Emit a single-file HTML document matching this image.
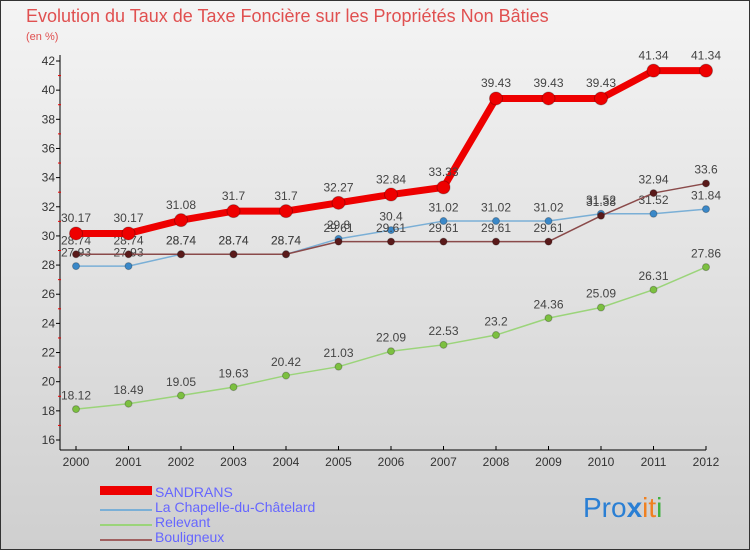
<!DOCTYPE html>
<html><head><meta charset="utf-8"><style>
body{margin:0;width:750px;height:550px;overflow:hidden;font-family:"Liberation Sans",sans-serif}
svg{display:block}
</style></head><body>
<svg id="c" width="750" height="550" xmlns="http://www.w3.org/2000/svg">
<defs><linearGradient id="bg" x1="0" y1="0" x2="0" y2="1"><stop offset="0" stop-color="#f4f4f4"/><stop offset="1" stop-color="#cfcfcf"/></linearGradient></defs>
<rect x="0.5" y="0.5" width="749" height="549" fill="url(#bg)" stroke="#333"/>
<text x="26" y="22" font-size="18" fill="#e05050">Evolution du Taux de Taxe Foncière sur les Propriétés Non Bâties</text>
<text x="26" y="40" font-size="11" fill="#e05050">(en %)</text>
<g id="axes"></g><g id="series"></g>
<g>
<rect x="100" y="486" width="52" height="9" fill="#e00"/>
<line x1="100" y1="510" x2="152" y2="510" stroke="#7aafd6" stroke-width="2"/>
<line x1="100" y1="525" x2="152" y2="525" stroke="#9bd47a" stroke-width="2"/>
<line x1="100" y1="540" x2="152" y2="540" stroke="#a06060" stroke-width="2"/>
<g font-size="14" fill="#6666ff">
<text x="155" y="497">SANDRANS</text>
<text x="155" y="512">La Chapelle-du-Châtelard</text>
<text x="155" y="527">Relevant</text>
<text x="155" y="542">Bouligneux</text>
</g></g>
<text x="583" y="517" font-size="28"><tspan fill="#2a7fd4">Pro</tspan><tspan fill="#2a7fd4" font-weight="bold">x</tspan><tspan fill="#f08020">it</tspan><tspan fill="#40b040">i</tspan></text>
</svg>
<script>
const years=["2000","2001","2002","2003","2004","2005","2006","2007","2008","2009","2010","2011","2012"];
const yTicks=[16,18,20,22,24,26,28,30,32,34,36,38,40,42];
const sandrans=[30.17,30.17,31.08,31.7,31.7,32.27,32.84,33.33,39.43,39.43,39.43,41.34,41.34];
const chapelle=[27.93,27.93,28.74,28.74,28.74,29.8,30.4,31.02,31.02,31.02,31.52,31.52,31.84];
const relevant=[18.12,18.49,19.05,19.63,20.42,21.03,22.09,22.53,23.2,24.36,25.09,26.31,27.86];
const bouligneux=[28.74,28.74,28.74,28.74,28.74,29.61,29.61,29.61,29.61,29.61,31.38,32.94,33.6];
const NS="http://www.w3.org/2000/svg";
const x=i=>76+i*52.5;
const y=v=>440-(v-16)*(379/26);
function mk(p,t,a){const e=document.createElementNS(NS,t);for(const k in a)e.setAttribute(k,a[k]);p.appendChild(e);return e;}
const ax=document.getElementById('axes');
let l=mk(ax,'line',{x1:60,y1:55,x2:60,y2:450,stroke:'#000'});


l=mk(ax,'line',{x1:60,y1:450,x2:706,y2:450,stroke:'#000'});


yTicks.forEach((v,i)=>{
  mk(ax,'line',{x1:56,y1:y(v),x2:60,y2:y(v),stroke:'#000'});
  if(i<yTicks.length-1)mk(ax,'line',{x1:58,y1:y(v+1),x2:61,y2:y(v+1),stroke:'#e00'});
  const t=mk(ax,'text',{x:55,y:y(v)+4,'font-size':12,'text-anchor':'end',fill:'#333'});t.textContent=v;
  
  
});
years.forEach((yr,i)=>{
  mk(ax,'line',{x1:x(i),y1:446,x2:x(i),y2:450,stroke:'#000'});
  const t=mk(ax,'text',{x:x(i),y:466,'font-size':12,'text-anchor':'middle',fill:'#333'});t.textContent=yr;
  
  
});
const sg=document.getElementById('series');
function draw(d,name,col,dot,w,r){
  const g=mk(sg,'g',{});
  
  
  mk(g,'polyline',{points:d.map((v,i)=>x(i)+','+y(v)).join(' '),fill:'none',stroke:col,'stroke-width':w,'stroke-linejoin':'round'});
  d.forEach((v,i)=>{
    const c=mk(g,'circle',{cx:x(i),cy:y(v),r:r,fill:dot,stroke:'rgba(0,0,0,0.25)'});
    
    
    const t=mk(g,'text',{x:x(i),y:y(v)-8-r/2,'font-size':12,'text-anchor':'middle',fill:'#444'});t.textContent=String(v);
    
    
  });
}
draw(relevant,'relevant','#9bd47a','#7cc040',1.5,3.5);
draw(chapelle,'chapelle','#7aafd6','#3a88c8',1.5,3.5);
draw(bouligneux,'bouligneux','#8a4a4a','#5a1a1a',1.5,3.5);
draw(sandrans,'sandrans','#e00','#e00',7,6.5);
</script>
</body></html>
